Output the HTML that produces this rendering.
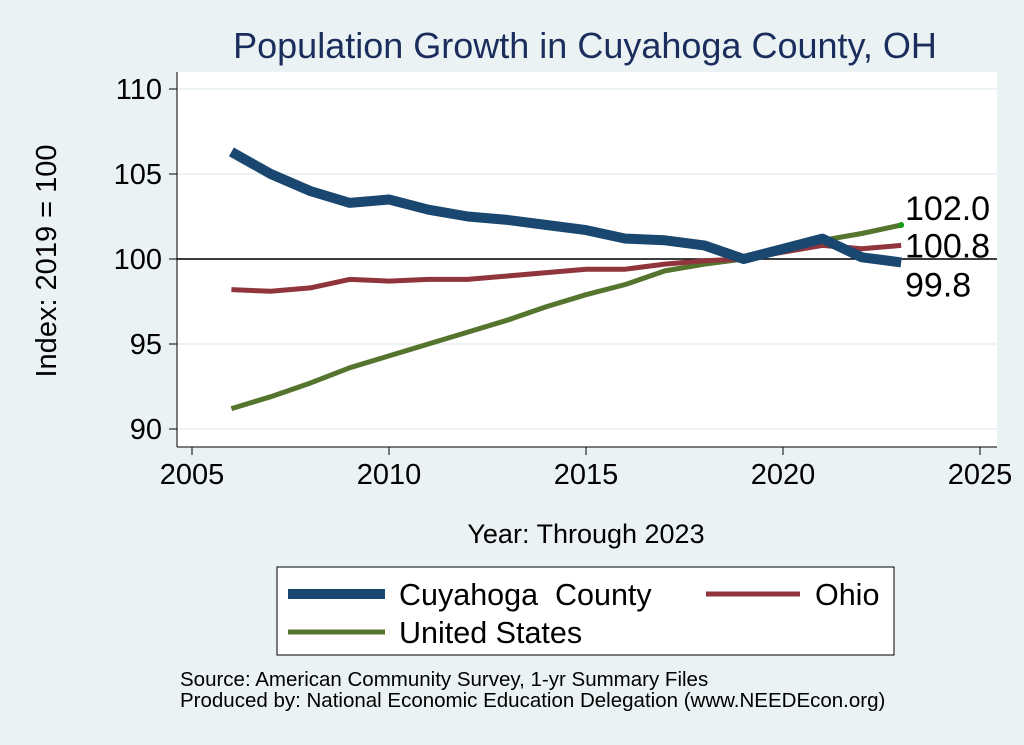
<!DOCTYPE html>
<html><head><meta charset="utf-8">
<style>
body{margin:0;background:#eaf2f3;font-family:"Liberation Sans",sans-serif;}
#wrap{position:relative;width:1024px;height:745px;background:#eaf2f3;overflow:hidden}
</style></head>
<body>
<div id="wrap">
<svg id="chart" width="1024" height="745" style="font-family:'Liberation Sans',sans-serif">
<text x="585" y="58" font-size="36" fill="#1a2d5c" text-anchor="middle">Population Growth in Cuyahoga County, OH</text>
<rect x="177" y="72" width="820" height="375" fill="#fff"/>
<g id="grid"></g><g id="axes"></g><g id="series"></g><g id="labels"></g>
<text x="586" y="543" font-size="27" text-anchor="middle">Year: Through 2023</text>
<text transform="translate(56,261) rotate(-90)" font-size="29" text-anchor="middle">Index: 2019 = 100</text>
<g>
<rect x="277" y="567" width="617" height="88" fill="#fff" stroke="#000" stroke-width="1"/>
<line x1="288" y1="594" x2="385" y2="594" stroke="#1a476f" stroke-width="10"/>
<text x="399" y="605" font-size="30.5" style="white-space:pre" xml:space="preserve">Cuyahoga  County</text>
<line x1="706" y1="594" x2="800" y2="594" stroke="#90353b" stroke-width="5"/>
<text x="815" y="605" font-size="30.5">Ohio</text>
<line x1="288" y1="632" x2="385" y2="632" stroke="#55752f" stroke-width="5"/>
<text x="399" y="643" font-size="30.5">United States</text>
</g>
<text x="180" y="686" font-size="20.5">Source: American Community Survey, 1-yr Summary Files</text>
<text x="180" y="707" font-size="20.5">Produced by: National Economic Education Delegation (www.NEEDEcon.org)</text>
</svg>
</div>
<script>
const years=[2006,2007,2008,2009,2010,2011,2012,2013,2014,2015,2016,2017,2018,2019,2020,2021,2022,2023];
const cuyahoga=[106.3,105.0,104.0,103.3,103.5,102.9,102.5,102.3,102.0,101.7,101.2,101.1,100.8,100.0,100.6,101.2,100.1,99.8];
const ohio=[98.2,98.1,98.3,98.8,98.7,98.8,98.8,99.0,99.2,99.4,99.4,99.7,99.9,100.0,100.4,100.8,100.6,100.8];
const us=[91.2,91.9,92.7,93.6,94.3,95.0,95.7,96.4,97.2,97.9,98.5,99.3,99.7,100.0,100.6,101.1,101.5,102.0];
const xTicks=[2005,2010,2015,2020,2025];
const yTicks=[90,95,100,105,110];
const NS="http://www.w3.org/2000/svg";
const xs=v=>192+(v-2005)*(980-192)/20;
const ys=v=>429-(v-90)*17;
function mk(tag,attrs,parent){const e=document.createElementNS(NS,tag);for(const k in attrs)e.setAttribute(k,attrs[k]);parent.appendChild(e);return e;}
const grid=document.getElementById('grid'),axes=document.getElementById('axes'),series=document.getElementById('series'),labels=document.getElementById('labels');
yTicks.forEach(t=>{
 const g=mk('line',{x1:177,x2:997,y1:ys(t),y2:ys(t),stroke:'#e6eff0','stroke-width':1.5},grid);
 
 
 const tk=mk('line',{x1:169,x2:177,y1:ys(t),y2:ys(t),stroke:'#000'},axes);
 
 
 const tx=mk('text',{x:162,y:ys(t)+10,'font-size':29,'text-anchor':'end'},axes);
 tx.textContent=t;
 
 
});
xTicks.forEach(t=>{
 const tk=mk('line',{x1:xs(t),x2:xs(t),y1:447,y2:455,stroke:'#000'},axes);
 
 
 const tx=mk('text',{x:xs(t),y:484,'font-size':29,'text-anchor':'middle'},axes);
 tx.textContent=t;
 
 
});
const ax1=mk('line',{x1:177,x2:177,y1:72,y2:447,stroke:'#000'},axes);


const ax2=mk('line',{x1:177,x2:997,y1:447,y2:447,stroke:'#000'},axes);


const ref=mk('line',{x1:177,x2:997,y1:ys(100),y2:ys(100),stroke:'#000','stroke-width':1.5},axes);


function line(vals,color,w,name){
 const p=mk('polyline',{points:years.map((y,i)=>xs(y)+','+ys(vals[i])).join(' '),fill:'none',stroke:color,'stroke-width':w,'stroke-linejoin':'round'},series);
 
 
}
line(us,'#55752f',5,'line-united-states');
line(ohio,'#90353b',5,'line-ohio');
line(cuyahoga,'#1a476f',10,'line-cuyahoga');
const last=years.length-1;
const dot=mk('circle',{cx:xs(years[last]),cy:ys(us[last]),r:3,fill:'#1a9a1a'},series);


[[us[last],-5],[ohio[last],12],[cuyahoga[last],34]].forEach(d=>{
 const t=mk('text',{x:905,y:ys(d[0])+d[1],'font-size':34},labels);
 t.textContent=d[0].toFixed(1);
 
 
});
</script>
</body></html>
